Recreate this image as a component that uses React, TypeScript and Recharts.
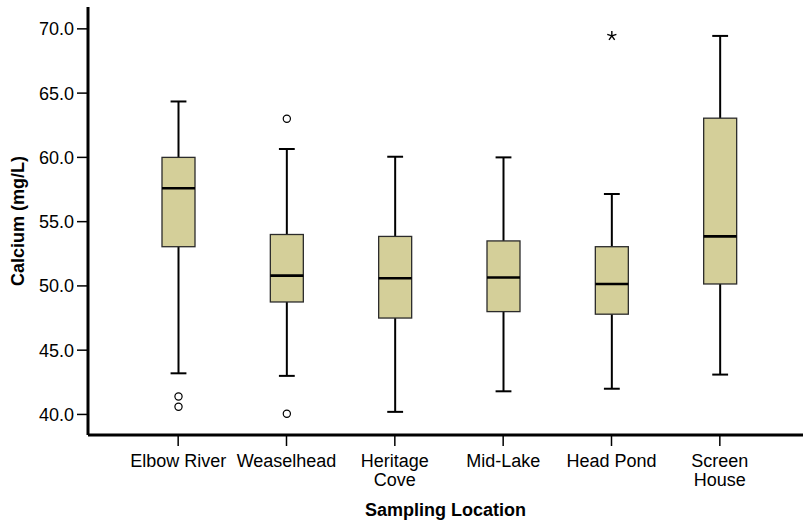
import React from 'react';
import { BarChart, Bar, XAxis, YAxis, Label } from 'recharts';

// Calcium concentration (mg/L) by sampling location — box plot summary
const locations = ['Elbow River', 'Weaselhead', 'Heritage Cove', 'Mid-Lake', 'Head Pond', 'Screen House'];
const locationLabelLines = [
  ['Elbow River'],
  ['Weaselhead'],
  ['Heritage', 'Cove'],
  ['Mid-Lake'],
  ['Head Pond'],
  ['Screen', 'House'],
];
const whiskerLow = [43.2, 43.0, 40.2, 41.8, 42.0, 43.1];
const quartile1 = [53.05, 48.75, 47.5, 48.0, 47.8, 50.15];
const medians = [57.6, 50.8, 50.6, 50.65, 50.15, 53.85];
const quartile3 = [60.0, 54.0, 53.85, 53.5, 53.05, 63.05];
const whiskerHigh = [64.35, 60.65, 60.05, 60.0, 57.15, 69.45];
// mild outliers (circles) and extreme values (stars)
const outliers = [[41.4, 40.6], [63.0, 40.05], [], [], [], []];
const extremes = [[], [], [], [], [69.45], []];

const yTicks = [40, 45, 50, 55, 60, 65, 70];

const rows = locations.map((name, i) => ({
  name,
  range: [whiskerLow[i], whiskerHigh[i]],
  lo: whiskerLow[i],
  hi: whiskerHigh[i],
  q1: quartile1[i],
  median: medians[i],
  q3: quartile3[i],
  outliers: outliers[i],
  extremes: extremes[i],
}));

const FONT = '"Liberation Sans", Arial, Helvetica, sans-serif';
const BOX_FILL = '#d4cf99';

function BoxShape(props: any) {
  const { x, y, width, height, payload } = props;
  if (payload == null) return null;
  const { lo, hi, q1, median, q3 } = payload;
  const top = height >= 0 ? y : y + height;
  const span = Math.abs(height);
  // map a value onto the pixel span the bar occupies between the whiskers
  const py = (v: number) => top + (span * (hi - v)) / (hi - lo);
  const cx = x + width / 2;
  const capHalf = width * 0.24;
  const boxTop = py(q3);
  const boxBottom = py(q1);
  return (
    <g>
      <line x1={cx} x2={cx} y1={py(hi)} y2={boxTop} stroke="#000" strokeWidth={2} />
      <line x1={cx} x2={cx} y1={boxBottom} y2={py(lo)} stroke="#000" strokeWidth={2} />
      <line x1={cx - capHalf} x2={cx + capHalf} y1={py(hi)} y2={py(hi)} stroke="#000" strokeWidth={2} />
      <line x1={cx - capHalf} x2={cx + capHalf} y1={py(lo)} y2={py(lo)} stroke="#000" strokeWidth={2} />
      <rect
        x={x}
        y={boxTop}
        width={width}
        height={boxBottom - boxTop}
        fill={BOX_FILL}
        stroke="#2b2b2b"
        strokeWidth={1.3}
      />
      <line x1={x} x2={x + width} y1={py(median)} y2={py(median)} stroke="#000" strokeWidth={2.6} />
      {payload.outliers.map((v: number, k: number) => (
        <circle key={`o${k}`} cx={cx} cy={py(v)} r={3.6} fill="#fff" stroke="#000" strokeWidth={1.2} />
      ))}
      {payload.extremes.map((v: number, k: number) => {
        const cy = py(v);
        const arms = [0, 1, 2, 3, 4].map((j) => {
          const a = -Math.PI / 2 + (j * 2 * Math.PI) / 5;
          return (
            <line
              key={j}
              x1={cx}
              y1={cy}
              x2={cx + 4.8 * Math.cos(a)}
              y2={cy + 4.8 * Math.sin(a)}
              stroke="#000"
              strokeWidth={1.4}
            />
          );
        });
        return <g key={`e${k}`}>{arms}</g>;
      })}
    </g>
  );
}

function LocationTick(props: any) {
  const { x, y, payload } = props;
  const idx = locations.indexOf(payload.value);
  const lines = idx >= 0 ? locationLabelLines[idx] : [String(payload.value)];
  return (
    <text x={x} y={y + 19} textAnchor="middle" fontFamily={FONT} fontSize={18} fill="#000">
      {lines.map((ln, k) => (
        <tspan key={k} x={x} dy={k === 0 ? 0 : 19}>
          {ln}
        </tspan>
      ))}
    </text>
  );
}

export default function App() {
  return (
    <div style={{ position: 'absolute', left: 0, top: 0, background: '#fff' }}>
      <BarChart
        width={803}
        height={524}
        data={rows}
        margin={{ top: 7, right: 0, bottom: 4, left: 0 }}
        barCategoryGap={0}
      >
        <XAxis
          dataKey="name"
          type="category"
          interval={0}
          padding={{ left: 36, right: 29 }}
          height={85}
          tickSize={11}
          tickMargin={2}
          axisLine={{ stroke: '#000', strokeWidth: 3 }}
          tickLine={{ stroke: '#000', strokeWidth: 1.5 }}
          tick={<LocationTick />}
        >
          <Label
            value="Sampling Location"
            position="insideBottom"
            offset={4}
            style={{ fontFamily: FONT, fontSize: 18, fontWeight: 700, fill: '#000' }}
          />
        </XAxis>
        <YAxis
          type="number"
          width={88}
          domain={[38.4, 71.7]}
          allowDataOverflow
          ticks={yTicks}
          interval={0}
          tickFormatter={(v: number) => v.toFixed(1)}
          tickSize={11}
          tickMargin={3}
          axisLine={{ stroke: '#000', strokeWidth: 3 }}
          tickLine={{ stroke: '#000', strokeWidth: 1.5 }}
          tick={{ fontFamily: FONT, fontSize: 18, fill: '#000' }}
        >
          <Label
            content={() => (
              <text
                transform="translate(24,221) rotate(-90)"
                textAnchor="middle"
                fontFamily={FONT}
                fontSize={18}
                fontWeight={700}
                fill="#000"
              >
                Calcium (mg/L)
              </text>
            )}
          />
        </YAxis>
        <Bar dataKey="range" barSize={33} isAnimationActive={false} shape={BoxShape} />
      </BarChart>
    </div>
  );
}
